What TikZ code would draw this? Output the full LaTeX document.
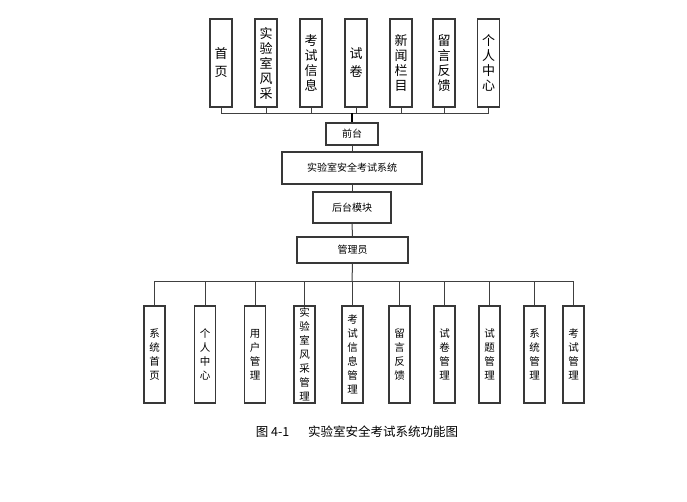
\documentclass[tikz,border=0pt]{standalone}
\usepackage{fontspec}
\setmainfont{Noto Sans CJK SC}
\begin{document}
\begin{tikzpicture}[x=1pt,y=-1pt,
  box/.style={draw=black!78,line width=1.25pt,inner sep=0pt,fill=white},
  topbox/.style={box,minimum width=22pt,minimum height=88pt,align=center,font=\fontsize{13}{15}\selectfont},
  topwide/.style={topbox,font=\fontsize{13}{18}\selectfont},
  botbox/.style={box,minimum width=21pt,minimum height=97pt,align=center,font=\fontsize{10.5}{14}\selectfont},
  midbox/.style={box,font=\fontsize{10}{12}\selectfont},
  link/.style={draw=black!75,line width=1pt},
  thick link/.style={draw=black,line width=2pt}]
\useasboundingbox (0,0) rectangle (687,501);
% top row
\node[topwide] (t1) at (221,63) {首\\页};
\node[topbox]  (t2) at (266,63) {实\\验\\室\\风\\采};
\node[topbox]  (t3) at (311,63) {考\\试\\信\\息};
\node[topwide] (t4) at (356,63) {试\\卷};
\node[topbox]  (t5) at (401,63) {新\\闻\\栏\\目};
\node[topbox]  (t6) at (444,63) {留\\言\\反\\馈};
\node[topbox]  (t7) at (488.5,63) {个\\人\\中\\心};
\coordinate (busT) at (352,113);
% middle column
\node[midbox,minimum width=52pt,minimum height=22pt] (qt) at (352,134) {前台};
\node[midbox,minimum width=140pt,minimum height=32pt] (sys) at (352,168) {实验室安全考试系统};
\node[midbox,minimum width=78pt,minimum height=31pt] (ht) at (352,207.5) {后台模块};
\node[midbox,minimum width=111pt,minimum height=26pt] (adm) at (352.5,250) {管理员};
\coordinate (busB) at (352,281);
% bottom row
\node[botbox] (b1) at (154.5,354.5) {系\\统\\首\\页};
\node[botbox] (b2) at (205,354.5) {个\\人\\中\\心};
\node[botbox] (b3) at (255,354.5) {用\\户\\管\\理};
\node[botbox] (b4) at (304.5,354.5) {实\\验\\室\\风\\采\\管\\理};
\node[botbox] (b5) at (352.5,354.5) {考\\试\\信\\息\\管\\理};
\node[botbox] (b6) at (399.5,354.5) {留\\言\\反\\馈};
\node[botbox] (b7) at (444.5,354.5) {试\\卷\\管\\理};
\node[botbox] (b8) at (489.5,354.5) {试\\题\\管\\理};
\node[botbox] (b9) at (534.5,354.5) {系\\统\\管\\理};
\node[botbox] (b10) at (573.5,354.5) {考\\试\\管\\理};
% top connectors
\draw[link] (t1.south) -- (t1.south |- busT) -- (t7.south |- busT) -- (t7.south);
\foreach \n in {t2,t3,t4,t5,t6} \draw[link] (\n.south) -- (\n.south |- busT);
\draw[thick link] (busT) -- (qt.north);
\draw[link] (qt.south) -- (sys.north);
\draw[link] (sys.south) -- (ht.north);
\draw[link] (ht.south) -- (adm.north);
\draw[link] (adm.south) -- (busB);
% bottom connectors
\draw[link] (b1.north) -- (b1.north |- busB) -- (b10.north |- busB) -- (b10.north);
\foreach \n in {b2,b3,b4,b5,b6,b7,b8,b9} \draw[link] (\n.north) -- (\n.north |- busB);
% caption
\node[font=\fontsize{12.5}{14}\selectfont,inner sep=0pt] (cap) at (357,432) {图 4-1\hspace{1.5em}实验室安全考试系统功能图};
\end{tikzpicture}
\end{document}
